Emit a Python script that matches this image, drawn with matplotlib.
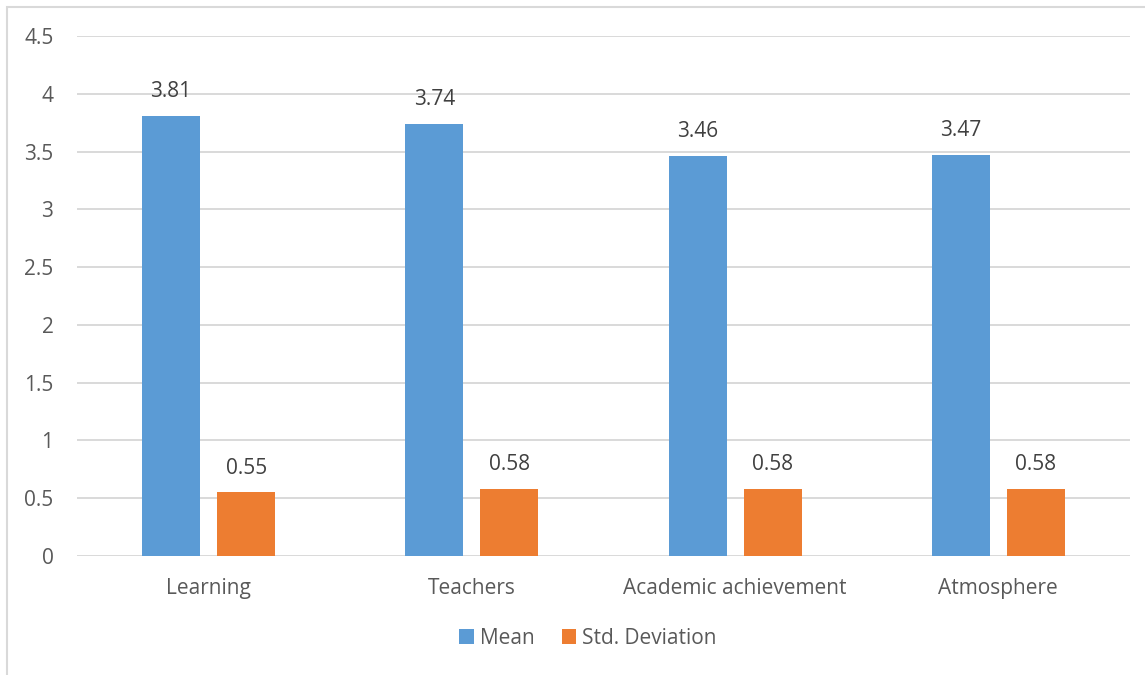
import matplotlib
matplotlib.use("Agg")
import matplotlib.pyplot as plt
import matplotlib.patches as mpatches
import numpy as np

categories = ["Learning", "Teachers", "Academic achievement", "Atmosphere"]
mean_values = [3.81, 3.74, 3.46, 3.47]
std_values = [0.55, 0.58, 0.58, 0.58]
series_names = ["Mean", "Std. Deviation"]
yticks = [0, 0.5, 1, 1.5, 2, 2.5, 3, 3.5, 4, 4.5]
ytick_labels = ["0", "0.5", "1", "1.5", "2", "2.5", "3", "3.5", "4", "4.5"]

blue = "#5B9BD5"
orange = "#ED7D31"
text_color = "#595959"
grid_color = "#D9D9D9"

plt.rcParams['font.family'] = ['Open Sans', 'DejaVu Sans']

W, H = 1145, 675
fig = plt.figure(figsize=(W / 100, H / 100), dpi=100)
ax = fig.add_axes([77 / W, 1 - 556 / H, (1130 - 77) / W, (556 - 36) / H])

x = np.arange(len(categories))
bw = 0.22
off = 0.1425
fs = 15
b1 = ax.bar(x - off, mean_values, bw, color=blue, label=series_names[0], zorder=3)
b2 = ax.bar(x + off, std_values, bw, color=orange, label=series_names[1], zorder=3)

for bars, vals in ((b1, mean_values), (b2, std_values)):
    for rect, v in zip(bars, vals):
        ax.annotate(f"{v:.2f}", (rect.get_x() + rect.get_width() / 2, v),
                    xytext=(0, 10), textcoords="offset points",
                    ha="center", va="bottom", fontsize=fs, color="#404040")

ax.set_xlim(-0.5, len(categories) - 0.5)
ax.set_ylim(0, 4.5)
ax.set_yticks(yticks)
ax.set_yticklabels(ytick_labels)
ax.set_xticks(x)
ax.set_xticklabels(categories)
ax.tick_params(axis="both", length=0, labelsize=fs, colors=text_color)
ax.tick_params(axis="y", pad=17)
ax.tick_params(axis="x", pad=16)
ax.yaxis.grid(True, color=grid_color, linewidth=1.4, zorder=0)
ax.set_axisbelow(True)
for s in ax.spines.values():
    s.set_visible(False)

leg = fig.legend(handles=[b1, b2], labels=series_names, loc="center",
                 bbox_to_anchor=(588 / W, 1 - 638 / H), ncol=2, frameon=False,
                 fontsize=fs, handlelength=0.7, handleheight=0.7,
                 handletextpad=0.3, columnspacing=1.3)
for t in leg.get_texts():
    t.set_color(text_color)

border = mpatches.Rectangle((7 / W, -0.2), 1.5, (H - 7) / H + 0.2,
                            transform=fig.transFigure, fill=False,
                            edgecolor=grid_color, linewidth=1.5)
fig.patches.append(border)

fig.savefig("out.png", dpi=100, facecolor="white")
